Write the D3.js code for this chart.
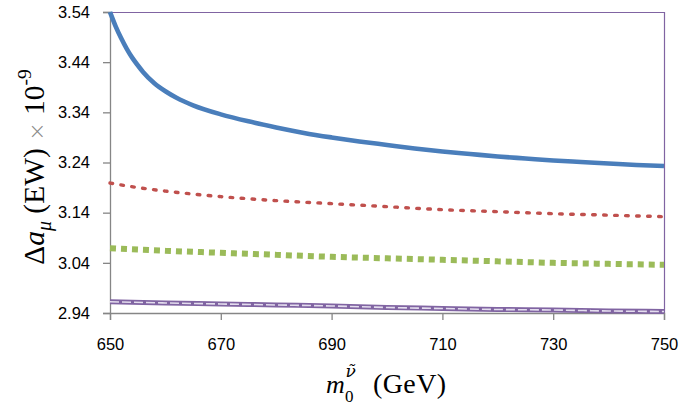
<!DOCTYPE html>
<html><head><meta charset="utf-8">
<script src="https://cdn.jsdelivr.net/npm/d3@7"></script>
<style>body{margin:0;background:#fff}svg{display:block}</style>
</head><body>
<svg id="c" width="692" height="414"></svg>
<script>
// ---- data ----
const xTicks = [650, 670, 690, 710, 730, 750];
const yTicks = [2.94, 3.04, 3.14, 3.24, 3.34, 3.44, 3.54];
const blueX = [650,651,652,653,654,655,656,658,660,662,665,670,675,680,685,690,695,700,705,710,715,720,725,730,735,740,745,750];
const blueY = [3.540,3.512,3.488,3.467,3.449,3.434,3.420,3.398,3.382,3.369,3.354,3.336,3.322,3.310,3.299,3.290,3.282,3.275,3.268,3.262,3.257,3.252,3.248,3.244,3.241,3.238,3.235,3.233];
const redX = [650,655,660,665,670,680,690,700,710,720,730,740,750];
const redY = [3.199,3.190,3.183,3.177,3.172,3.164,3.158,3.152,3.146,3.142,3.138,3.135,3.132];
const greenX = [650,660,670,680,690,700,710,720,730,740,750];
const greenY = [3.069,3.064,3.060,3.056,3.052,3.049,3.046,3.043,3.040,3.038,3.036];
const purpleX = [650,660,670,680,690,700,710,720,730,740,750];
const purpleY = [2.9625,2.960,2.958,2.956,2.954,2.951,2.949,2.947,2.946,2.944,2.943];

const svg = d3.select("#c");
const L = 110, R = 664, T = 12, B = 313;
const x = d3.scaleLinear().domain([650, 750]).range([L, R]);
const y = d3.scaleLinear().domain([2.94, 3.54]).range([B, T]);

// frame (top/right purple)
svg.append("line").attr("x1", L).attr("x2", R).attr("y1", T + 0.5).attr("y2", T + 0.5).attr("stroke", "#8064A2").attr("stroke-width", 1.2);
svg.append("line").attr("x1", R + 0.5).attr("x2", R + 0.5).attr("y1", T).attr("y2", B).attr("stroke", "#8064A2").attr("stroke-width", 1.2);

const tickFont = "'Liberation Sans', Arial, sans-serif";
const yAxis = svg.append("g").attr("transform", `translate(${L},0)`)
  .call(d3.axisLeft(y).tickValues(yTicks).tickFormat(d3.format(".2f")).tickSize(7).tickPadding(13));
const xAxis = svg.append("g").attr("transform", `translate(0,${B})`)
  .call(d3.axisBottom(x).tickValues(xTicks).tickFormat(d3.format("d")).tickSize(7).tickPadding(18));
[yAxis, xAxis].forEach(g => {
  g.select(".domain").attr("stroke", "#868686").attr("stroke-width", 1.3);
  g.selectAll(".tick line").attr("stroke", "#868686").attr("stroke-width", 1.3);
  g.selectAll(".tick text").attr("fill", "#000").style("font-family", tickFont).style("font-size", "16.5px");
});

const line = d3.line().x(d => x(d[0])).y(d => y(d[1])).curve(d3.curveMonotoneX);
const zip = (a, b) => a.map((v, i) => [v, b[i]]);

svg.append("path").datum(zip(purpleX, purpleY)).attr("d", line).attr("fill", "none")
  .attr("stroke", "#8064A2").attr("stroke-width", 5);
svg.append("path").datum(zip(purpleX, purpleY)).attr("d", line).attr("fill", "none")
  .attr("stroke", "#E4DDEE").attr("stroke-width", 1.6).attr("stroke-dasharray", "9,3");
svg.append("path").datum(zip(greenX, greenY)).attr("d", line).attr("fill", "none")
  .attr("stroke", "#9BBB59").attr("stroke-width", 6).attr("stroke-dasharray", "6,5");
svg.append("path").datum(zip(redX, redY)).attr("d", line).attr("fill", "none")
  .attr("stroke", "#C0504D").attr("stroke-width", 3.4).attr("stroke-dasharray", "2.6,8.4").attr("stroke-linecap", "round");
svg.append("path").datum(zip(blueX, blueY)).attr("d", line).attr("fill", "none")
  .attr("stroke", "#4A7EBB").attr("stroke-width", 4.6).attr("stroke-linejoin", "round");

// ---- x title ----
const serif = "'Liberation Serif', 'Times New Roman', serif";
const xg = svg.append("g").style("font-family", serif).attr("fill", "#000");
const mt = xg.append("text").attr("x", 326).attr("y", 393).style("font-size", "26px");
mt.append("tspan").style("font-style", "italic").text("m");
mt.append("tspan").attr("x", 345).attr("y", 402).style("font-size", "17px").text("0");
mt.append("tspan").attr("x", 345.5).attr("y", 377).style("font-size", "17px").style("font-style", "italic")
  .style("font-family", "'DejaVu Serif', serif").text("ν\u0303");
xg.append("text").attr("x", 373).attr("y", 393).style("font-size", "28px").style("letter-spacing", "0.4px").text("(GeV)");

// ---- y title ----
const yt = svg.append("text").attr("transform", "translate(44,167) rotate(-90)").attr("text-anchor", "middle")
  .style("font-family", serif).style("font-size", "29.5px").attr("fill", "#000");
yt.append("tspan").text("Δ");
yt.append("tspan").style("font-style", "italic").text("a");
yt.append("tspan").attr("dy", 7).style("font-size", "20px").style("font-style", "italic").text("μ");
yt.append("tspan").attr("dy", -7).text(" (EW) ");
yt.append("tspan").style("font-size", "22px").attr("fill", "#888").style("font-family", "'DejaVu Sans', sans-serif").style("font-weight", "200").text("×");
yt.append("tspan").text(" 10");
yt.append("tspan").attr("dy", -13).style("font-size", "19.5px").text("-9");
</script>
</body></html>
